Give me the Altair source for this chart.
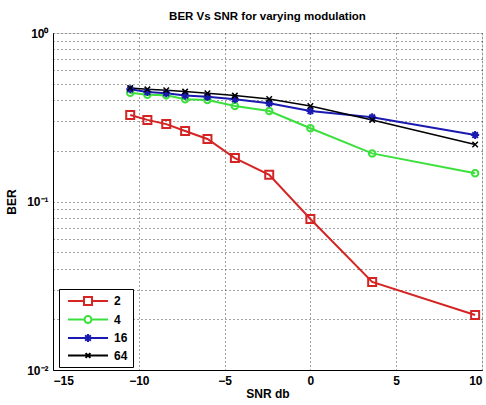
import altair as alt
import pandas as pd

snr = [-10.5, -9.5, -8.4, -7.3, -6.0, -4.4, -2.4, 0.0, 3.6, 9.6]
ber_2 = [0.326, 0.305, 0.288, 0.262, 0.235, 0.181, 0.144, 0.0787, 0.0333, 0.0212]
ber_4 = [0.442, 0.430, 0.427, 0.404, 0.400, 0.369, 0.344, 0.272, 0.193, 0.147]
ber_16 = [0.463, 0.446, 0.439, 0.425, 0.419, 0.404, 0.383, 0.344, 0.316, 0.248]
ber_64 = [0.472, 0.463, 0.457, 0.449, 0.439, 0.425, 0.406, 0.369, 0.305, 0.218]
series = ["2", "4", "16", "64"]
colors = ["#d42424", "#3ce03c", "#1a1ab0", "#000000"]

rows = []
for name, vals in zip(series, [ber_2, ber_4, ber_16, ber_64]):
    for s, b in zip(snr, vals):
        rows.append({"snr": s, "ber": b, "mod": name})
df = pd.DataFrame(rows)

FONT = "Liberation Sans"

# marker shapes (unit box [-1,1])
marker_shapes = {
    "2": "square",
    "4": "circle",
    "16": "M-1,0L1,0M0,-1L0,1M-0.7,-0.7L0.7,0.7M-0.7,0.7L0.7,-0.7",
    "64": "M-1,-1L1,1M-1,1L1,-1",
}
marker_sizes = {"2": 64, "4": 42, "16": 64, "64": 30}
# legend symbols: line with marker in the middle (unit = 6 px at size 144)
legend_shapes = [
    "M-3.33,0H-0.67M0.67,0H3.33M-0.67,-0.67H0.67V0.67H-0.67Z",
    "M-3.33,0H-0.58M0.58,0H3.33M0.58,0A0.58,0.58,0,1,1,-0.58,0A0.58,0.58,0,1,1,0.58,0",
    "M-3.33,0H3.33M0,-0.67L0,0.67M-0.47,-0.47L0.47,0.47M-0.47,0.47L0.47,-0.47",
    "M-3.33,0H3.33M-0.4,-0.4L0.4,0.4M-0.4,0.4L0.4,-0.4",
]

xscale = alt.Scale(domain=[-15, 10], nice=False, zero=False)
yscale = alt.Scale(type="log", domain=[0.01, 1], nice=False)
cscale = alt.Scale(domain=series, range=colors)

yvals = [k * 0.01 for k in range(1, 10)] + [k * 0.1 for k in range(1, 10)] + [1.0]

xaxis = alt.Axis(
    values=[-15, -10, -5, 0, 5, 10], title="SNR db", grid=True,
    gridColor="#444", gridDash=[1, 3], gridWidth=1,
    domainColor="#000", tickSize=0, labelPadding=5,
    labelFont=FONT, labelFontSize=12, labelFontWeight="bold", labelColor="#000",
    titleFont=FONT, titleFontSize=12, titleFontWeight="bold", titleColor="#000",
    titlePadding=2,
)
yaxis = alt.Axis(
    values=yvals, title="BER", grid=True,
    gridColor="#444", gridDash=[1, 3], gridWidth=1,
    domainColor="#000", tickSize=0, labelPadding=5, labelOverlap=False,
    labelExpr="datum.value > 0.99 ? '10⁰' : (abs(datum.value - 0.1) < 1e-9 ? '10⁻¹' : (abs(datum.value - 0.01) < 1e-9 ? '10⁻²' : ''))",
    labelFont=FONT, labelFontSize=12, labelFontWeight="bold", labelColor="#000",
    titleFont=FONT, titleFontSize=12, titleFontWeight="bold", titleColor="#000",
    titlePadding=8,
)

base = alt.Chart(df)

legend_layer = base.mark_point(
    filled=False, strokeWidth=2, opacity=0
).encode(
    x=alt.X("snr:Q", scale=xscale, axis=xaxis),
    y=alt.Y("ber:Q", scale=yscale, axis=yaxis),
    color=alt.Color("mod:N", scale=cscale, title=None),
    shape=alt.Shape(
        "mod:N", scale=alt.Scale(domain=series, range=legend_shapes), title=None,
        legend=alt.Legend(
            orient="none", legendX=6, legendY=256, padding=5,
            strokeColor="#000", fillColor="#fff", cornerRadius=0,
            symbolSize=144, symbolStrokeWidth=2, symbolFillColor="transparent",
            symbolOpacity=1, symbolOffset=17,
            labelOffset=19, labelFont=FONT, labelFontSize=12,
            labelFontWeight="bold", labelColor="#000", rowPadding=1.5,
        ),
    ),
)

layers = [legend_layer]
for name, col in zip(series, colors):
    sub = base.transform_filter(alt.datum.mod == name)
    layers.append(
        sub.mark_line(strokeWidth=2 if name != "64" else 1.5).encode(
            x="snr:Q", y="ber:Q", color=alt.value(col)
        )
    )
for name, col in zip(series, colors):
    sub = base.transform_filter(alt.datum.mod == name)
    layers.append(
        sub.mark_point(
            filled=False, strokeWidth=2 if name != "64" else 1.5, opacity=1,
            shape=marker_shapes[name], size=marker_sizes[name],
        ).encode(x="snr:Q", y="ber:Q", color=alt.value(col))
    )

chart = alt.layer(*layers).properties(
    width=429, height=337,
    title=alt.TitleParams(
        "BER Vs SNR for varying modulation", font=FONT, fontSize=11.5,
        fontWeight="bold", color="#000", offset=5,
    ),
    autosize=alt.AutoSizeParams(type="none"),
    padding={"left": 53, "top": 33, "right": 4, "bottom": 35},
).configure_view(stroke=None).configure(background="#fff")

chart.save("out.html", embed_options={"renderer": "svg", "actions": False})
